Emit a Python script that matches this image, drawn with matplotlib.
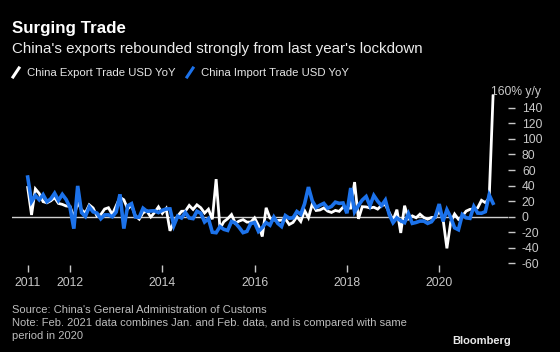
import numpy as np
import pandas as pd
import matplotlib
matplotlib.use('Agg')
import matplotlib.pyplot as plt
from matplotlib.lines import Line2D

plt.rcParams['font.family'] = ['Liberation Sans', 'DejaVu Sans']

# ---- data (monthly, Jan 2011 - Feb 2021, % y/y) ----
months = pd.date_range('2011-01-31', '2021-02-28', freq='ME')
exports = [
    37.6, 2.3, 35.8, 29.9, 19.4, 17.9, 20.4, 24.5, 17.1, 15.9, 13.8, 13.4,      # 2011
    -0.5, 18.4, 8.9, 4.9, 15.3, 11.3, 1.0, 2.7, 9.9, 11.6, 2.9, 14.1,          # 2012
    25.0, 21.8, 10.0, 14.7, 1.0, -3.1, 5.1, 7.2, -0.3, 5.6, 12.7, 4.3,         # 2013
    10.6, -18.1, -6.6, 0.9, 7.0, 7.2, 14.5, 9.4, 15.3, 11.6, 4.7, 9.7,         # 2014
    -3.3, 48.3, -15.0, -6.4, -2.5, 2.8, -8.3, -5.5, -3.7, -6.9, -6.8, -1.4,    # 2015
    -11.2, -25.4, 11.5, -1.8, -4.1, -4.8, -4.4, -2.8, -10.0, -7.3, 0.1, -6.1,  # 2016
    7.9, -1.3, 16.4, 8.0, 8.7, 11.3, 7.2, 5.5, 8.1, 6.9, 12.3, 10.9,           # 2017
    11.1, 44.5, -2.7, 12.9, 12.6, 11.3, 12.2, 9.8, 14.5, 15.6, 5.4, -4.4,      # 2018
    9.1, -20.8, 14.2, -2.7, 1.1, -1.3, 3.3, -1.0, -3.2, -0.9, -1.1, 7.6,       # 2019
    -3.0, -40.6, -6.6, 3.5, -3.3, 0.5, 7.2, 9.5, 9.9, 11.4, 21.1, 18.1,        # 2020
    24.0, 154.9,                                                              # 2021
]
imports = [
    51.0, 19.4, 27.3, 21.8, 28.4, 19.3, 22.9, 30.2, 20.9, 28.7, 22.1, 11.8,    # 2011
    -15.3, 39.6, 5.3, 0.3, 12.7, 6.3, 4.7, -2.6, 2.4, 2.4, 0.0, 6.0,           # 2012
    28.8, -15.2, 14.1, 16.8, -0.3, -0.7, 10.9, 7.0, 7.4, 7.6, 5.3, 8.3,        # 2013
    10.0, 10.1, -11.3, 0.8, -1.6, 5.5, -1.6, -2.4, 7.0, 4.6, -6.7, -2.4,       # 2014
    -19.9, -20.5, -12.7, -16.2, -17.6, -6.1, -8.1, -13.8, -20.4, -18.8, -8.7, -7.6,  # 2015
    -18.8, -13.8, -7.6, -10.9, -0.4, -8.4, -12.5, 1.5, -1.9, -1.4, 6.7, 3.1,   # 2016
    16.7, 38.1, 20.3, 11.9, 14.8, 17.2, 11.0, 13.3, 18.7, 17.2, 17.7, 4.5,     # 2017
    36.9, 6.3, 14.4, 21.5, 26.0, 14.1, 27.3, 20.0, 14.3, 21.4, 3.0, -7.6,      # 2018
    -1.5, -5.2, -7.6, 4.0, -8.5, -7.3, -5.6, -5.6, -8.5, -6.4, 0.3, 16.3,      # 2019
    -6.0, 9.0, -0.9, -14.2, -16.7, 2.7, -1.4, -2.1, 13.2, 4.7, 4.5, 6.5,       # 2020
    28.0, 17.3,                                                               # 2021
]
x_tick_labels = ['2011', '2012', '2014', '2016', '2018', '2020']
y_ticks = [-60, -40, -20, 0, 20, 40, 60, 80, 100, 120, 140]
series_names = ['China Export Trade USD YoY', 'China Import Trade USD YoY']

# ---- styling ----
W, H = 560, 352
BLUE = '#1c72ea'
WHITE = '#ffffff'
TICK = '#c8c8c8'

def fx(px):
    return px / W

def fy(py):
    return 1 - py / H

xvals = months.year + months.month / 12.0
x_tick_pos = [xvals[0], 2012, 2014, 2016, 2018, 2020]

fig = plt.figure(figsize=(W / 100, H / 100), dpi=100, facecolor='black')
ax = fig.add_axes([fx(12), fy(265), fx(508) - fx(12), fy(92.2) - fy(265)])
ax.set_facecolor('black')
for s in ax.spines.values():
    s.set_visible(False)

ax.axhline(0, color='#d0d0d0', lw=1.0, zorder=1)
ax.plot(xvals, exports, color=WHITE, lw=2.0, zorder=2, solid_joinstyle='miter')
ax.plot(xvals, imports, color=BLUE, lw=2.6, zorder=3, solid_joinstyle='miter')

ax.set_xlim(2012 - 58 / 46.15, 2012 + 438 / 46.15)
ax.set_ylim(-62, 160)

ax.yaxis.tick_right()
ax.set_yticks(y_ticks)
ax.set_yticklabels([str(v) for v in y_ticks])
ax.tick_params(axis='y', colors=TICK, labelcolor=TICK, length=5, width=1,
               direction='out', pad=5, labelsize=8.7)
ax.set_xticks(x_tick_pos)
ax.set_xticklabels(x_tick_labels)
ax.tick_params(axis='x', colors=TICK, labelcolor=TICK, length=5, width=1,
               direction='out', pad=4, labelsize=8.7)

# top label
fig.text(fx(541), fy(92), '160% y/y', color=TICK, fontsize=8.7, ha='right', va='center')

# titles
fig.text(fx(12), fy(32.5), 'Surging Trade', color='white', fontsize=12.2,
         fontweight='bold', ha='left', va='baseline')
fig.text(fx(12), fy(52.5), "China's exports rebounded strongly from last year's lockdown",
         color='#ececec', fontsize=10.9, ha='left', va='baseline')

# legend
for (x0, col, name) in [(13, WHITE, series_names[0]), (187, BLUE, series_names[1])]:
    fig.add_artist(Line2D([fx(x0), fx(x0 + 6)], [fy(77), fy(68)], color=col, lw=2.2,
                          transform=fig.transFigure))
    fig.text(fx(x0 + 14), fy(72.5), name, color='#e6e6e6', fontsize=8.2,
             ha='left', va='center')

# footer
foot = '#bdbdbd'
fig.text(fx(12), fy(310), "Source: China's General Administration of Customs",
         color=foot, fontsize=8.0, ha='left', va='center')
fig.text(fx(12), fy(323), "Note: Feb. 2021 data combines Jan. and Feb. data, and is compared with same",
         color=foot, fontsize=8.0, ha='left', va='center')
fig.text(fx(12), fy(336), "period in 2020", color=foot, fontsize=8.0, ha='left', va='center')
fig.text(fx(511), fy(341), 'Bloomberg', color='#e8e8e8', fontsize=8.0,
         fontweight='bold', ha='right', va='center')

fig.savefig('out.png', dpi=100, facecolor='black')
